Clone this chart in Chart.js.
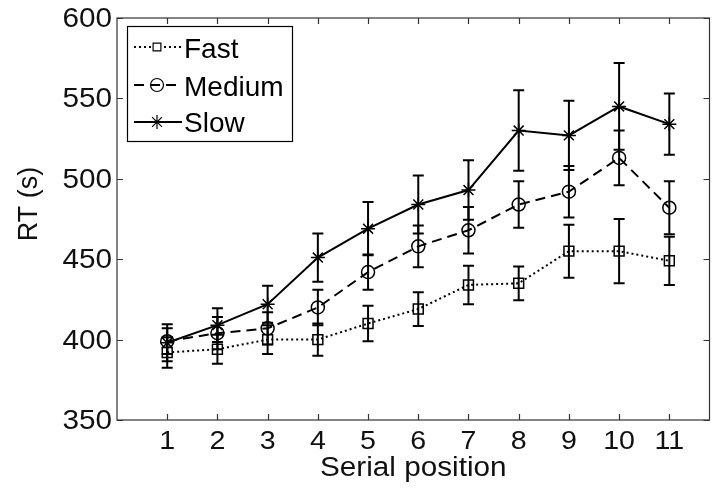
<!DOCTYPE html>
<html>
<head>
<meta charset="utf-8">
<script src="https://cdn.jsdelivr.net/npm/chart.js@4.4.1/dist/chart.umd.min.js"></script>
<style>
html,body{margin:0;padding:0;background:#fff;}
#wrap{width:718px;height:488px;}
</style>
</head>
<body>
<div id="wrap"><canvas id="c" width="718" height="488"></canvas></div>
<script>
// ---- data ----
const positions = [1, 2, 3, 4, 5, 6, 7, 8, 9, 10, 11];
const fast      = [392, 394, 400, 400, 410, 419, 434, 435, 455, 455, 449];
const fastErr   = [9.5, 9, 9, 10, 11, 10.5, 12, 10.5, 16.5, 20, 15];
const medium    = [399, 404, 407, 420, 442, 458, 468, 484, 492, 513, 482];
const mediumErr = [8, 10, 10, 11, 11, 13, 14.5, 14.5, 16, 17, 16.5];
const slow      = [398, 409, 422, 451, 469, 484, 493, 530, 527, 545, 534];
const slowErr   = [11.5, 10.5, 11.5, 15, 16.5, 18, 18.5, 25, 21.5, 27, 19];
const seriesNames = ['Fast', 'Medium', 'Slow'];
const yTicks = [350, 400, 450, 500, 550, 600];
const xTicks = [1, 2, 3, 4, 5, 6, 7, 8, 9, 10, 11];
const xTitle = 'Serial position';
const yTitle = 'RT (s)';

const FONT = '"Liberation Sans", Arial, sans-serif';
const AXIS_COLOR = '#333';
const STRETCH = 1.1;

const values = [fast, medium, slow];
const errors = [fastErr, mediumErr, slowErr];
const styles = [
  {dash: [2, 3], width: 2, point: 'rect', radius: 7},
  {dash: [10, 6], width: 2, point: 'circle', radius: 6.5},
  {dash: [], width: 2, point: 'star', radius: 7}
];

const datasets = seriesNames.map((name, i) => ({
  label: name,
  data: positions.map((x, j) => ({x: x, y: values[i][j]})),
  borderColor: '#000',
  borderWidth: styles[i].width,
  borderDash: styles[i].dash,
  pointStyle: styles[i].point,
  pointRadius: styles[i].radius,
  pointBorderWidth: 1.5,
  pointBorderColor: '#000',
  pointBackgroundColor: 'rgba(0,0,0,0)',
  fill: false,
  tension: 0
}));

function stretchedText(ctx, text, x, y, align) {
  ctx.save();
  ctx.translate(x, y);
  ctx.scale(STRETCH, 1);
  ctx.textAlign = align;
  ctx.fillText(text, 0, 0);
  ctx.restore();
}

const errorBarPlugin = {
  id: 'errorBars',
  afterDatasetsDraw(chart) {
    const ctx = chart.ctx;
    const xs = chart.scales.x, ys = chart.scales.y;
    ctx.save();
    ctx.strokeStyle = '#000';
    ctx.lineWidth = 2;
    ctx.setLineDash([]);
    for (let i = 0; i < values.length; i++) {
      for (let j = 0; j < positions.length; j++) {
        const px = xs.getPixelForValue(positions[j]);
        const top = ys.getPixelForValue(values[i][j] + errors[i][j]);
        const bot = ys.getPixelForValue(values[i][j] - errors[i][j]);
        const cw = 5.5;
        ctx.beginPath();
        ctx.moveTo(px, top); ctx.lineTo(px, bot);
        ctx.moveTo(px - cw, top); ctx.lineTo(px + cw, top);
        ctx.moveTo(px - cw, bot); ctx.lineTo(px + cw, bot);
        ctx.stroke();
      }
    }
    ctx.restore();
  }
};

const axesPlugin = {
  id: 'matlabAxes',
  afterDraw(chart) {
    const ctx = chart.ctx;
    const a = chart.chartArea;
    const xs = chart.scales.x, ys = chart.scales.y;
    ctx.save();
    ctx.strokeStyle = AXIS_COLOR;
    ctx.lineWidth = 1.2;
    ctx.setLineDash([]);
    ctx.strokeRect(a.left, a.top, a.right - a.left, a.bottom - a.top);
    const tl = 6;
    ctx.beginPath();
    xTicks.forEach(t => {
      const px = Math.round(xs.getPixelForValue(t)) + 0.5;
      ctx.moveTo(px, a.bottom); ctx.lineTo(px, a.bottom - tl);
      ctx.moveTo(px, a.top); ctx.lineTo(px, a.top + tl);
    });
    yTicks.forEach(t => {
      const py = Math.round(ys.getPixelForValue(t)) + 0.5;
      ctx.moveTo(a.left, py); ctx.lineTo(a.left + tl, py);
      ctx.moveTo(a.right, py); ctx.lineTo(a.right - tl, py);
    });
    ctx.stroke();

    // tick labels
    ctx.fillStyle = '#111';
    ctx.font = '27px ' + FONT;
    ctx.textBaseline = 'middle';
    yTicks.forEach(t => {
      stretchedText(ctx, String(t), a.left - 5, ys.getPixelForValue(t) + 1.5, 'right');
    });
    ctx.font = '26px ' + FONT;
    xTicks.forEach(t => {
      stretchedText(ctx, String(t), xs.getPixelForValue(t), 442, 'center');
    });

    // axis titles
    ctx.font = '27px ' + FONT;
    ctx.textBaseline = 'alphabetic';
    stretchedText(ctx, xTitle, (a.left + a.right) / 2, 476, 'center');
    ctx.save();
    ctx.translate(37, 204);
    ctx.rotate(-Math.PI / 2);
    ctx.textAlign = 'center';
    ctx.fillText(yTitle, 0, 0);
    ctx.restore();

    // legend
    const lx = 127, ly = 26, lw = 165, lh = 115;
    ctx.fillStyle = '#fff';
    ctx.fillRect(lx, ly, lw, lh);
    ctx.strokeStyle = '#000';
    ctx.lineWidth = 1.2;
    ctx.strokeRect(lx + 0.5, ly + 0.5, lw, lh);
    const rowY = [47, 85, 122];
    const baseY = [58, 96, 132];
    for (let i = 0; i < seriesNames.length; i++) {
      const y = rowY[i];
      const st = styles[i];
      ctx.strokeStyle = '#000';
      ctx.lineWidth = st.width;
      if (i === 0) {
        ctx.setLineDash([2, 3]);
        ctx.beginPath();
        ctx.moveTo(134, y); ctx.lineTo(151, y);
        ctx.moveTo(164, y); ctx.lineTo(182, y);
        ctx.stroke();
      } else if (i === 1) {
        ctx.setLineDash([10, 6]);
        ctx.beginPath();
        ctx.moveTo(134, y); ctx.lineTo(180, y);
        ctx.stroke();
      } else {
        ctx.setLineDash([]);
        ctx.beginPath();
        ctx.moveTo(134, y); ctx.lineTo(182, y);
        ctx.stroke();
      }
      ctx.setLineDash([]);
      ctx.lineWidth = 1.2;
      ctx.fillStyle = 'rgba(0,0,0,0)';
      Chart.helpers.drawPoint(ctx, {
        pointStyle: st.point,
        radius: i === 0 ? 5.5 : st.radius,
        borderWidth: 1.2,
        rotation: 0
      }, 157, y);
      ctx.fillStyle = '#000';
      ctx.font = '28px ' + FONT;
      ctx.textAlign = 'left';
      ctx.textBaseline = 'alphabetic';
      ctx.fillText(seriesNames[i], 184, baseY[i]);
    }
    ctx.restore();
  }
};

new Chart(document.getElementById('c'), {
  type: 'line',
  data: {datasets: datasets},
  options: {
    responsive: false,
    animation: false,
    devicePixelRatio: 1,
    layout: {padding: {left: 117, top: 18, right: 6, bottom: 68}},
    scales: {
      x: {type: 'linear', min: 0, max: 11.8, display: false},
      y: {type: 'linear', min: 350, max: 600, display: false}
    },
    plugins: {
      legend: {display: false},
      tooltip: {enabled: false}
    }
  },
  plugins: [errorBarPlugin, axesPlugin]
});
</script>
</body>
</html>
